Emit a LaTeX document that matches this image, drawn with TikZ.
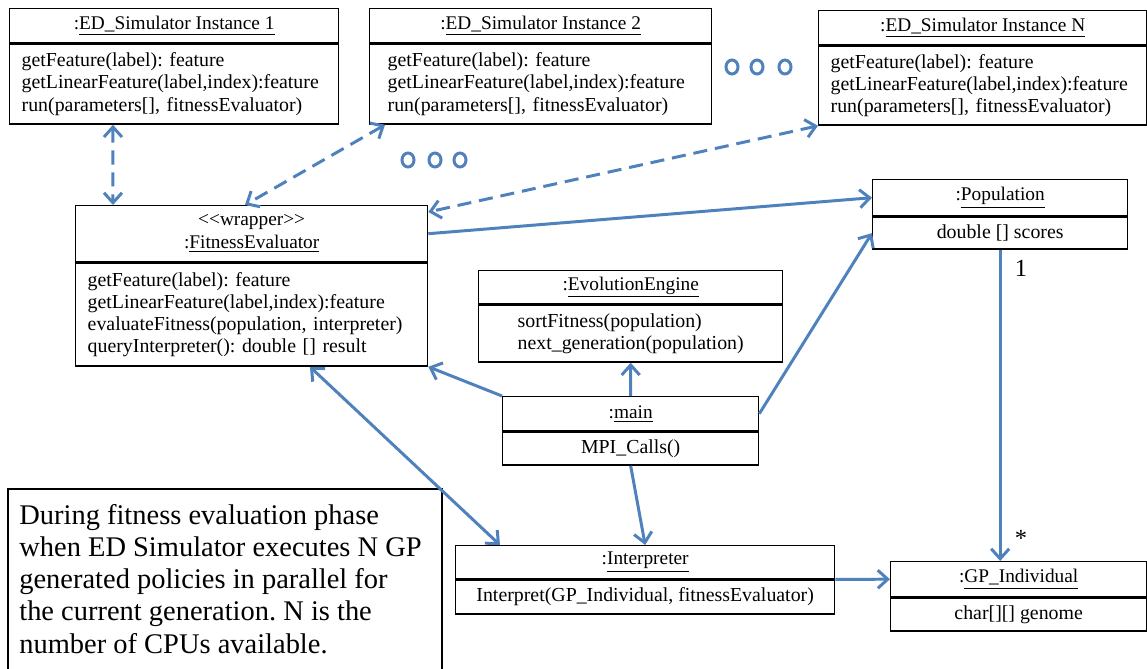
\documentclass[tikz,border=0pt]{standalone}
\usepackage{fontspec}
\setmainfont{Liberation Serif}
\usetikzlibrary{arrows.meta}

\definecolor{linkblue}{RGB}{79,129,189}

\begin{document}
\frenchspacing
\begin{tikzpicture}[
    x=0.02cm, y=-0.02cm,
    classhead/.style={rectangle, draw, line width=0.8pt, anchor=north west,
        inner sep=0pt, align=center, font=\fontsize{11}{13}\selectfont},
    classbody/.style={rectangle, draw, line width=0.8pt, anchor=north west,
        inner sep=0pt, align=center, font=\fontsize{11.3}{12.6}\selectfont},
    leftbody/.style={classbody, inner xsep=0.24cm, align=left},
    link/.style={draw=linkblue, line width=1.7pt,
        -{Straight Barb[length=2mm,width=3.6mm]}},
    biarrow/.style={link,
        {Straight Barb[length=2mm,width=3.6mm]}-{Straight Barb[length=2mm,width=3.6mm]}},
    dashlink/.style={biarrow, dash pattern=on 8pt off 4.5pt},
    ring/.style={draw=linkblue, line width=1.7pt}
]
\useasboundingbox (0,0) rectangle (1147,669);
\clip (0,0) rectangle (1147,669);

% simulator instances
\node (ed1head) [classhead, minimum width=6.58cm, minimum height=0.68cm] at (9,8)
  {:\underline{ED\_Simulator Instance 1}};
\node (ed1body) [leftbody, text width=6.1cm, minimum height=1.6cm] at (ed1head.south west)
  {getFeature(label): feature\\ getLinearFeature(label,index):feature\\ run(parameters[], fitnessEvaluator)};

\node (ed2head) [classhead, minimum width=6.84cm, minimum height=0.68cm] at (369,8)
  {:\underline{ED\_Simulator Instance 2}};
\node (ed2body) [leftbody, inner xsep=0.36cm, text width=6.12cm, minimum height=1.6cm] at (ed2head.south west)
  {getFeature(label): feature\\ getLinearFeature(label,index):feature\\ run(parameters[], fitnessEvaluator)};

\node (ednhead) [classhead, minimum width=6.56cm, minimum height=0.68cm] at (818,10)
  {:\underline{ED\_Simulator Instance N}};
\node (ednbody) [leftbody, inner xsep=0.24cm, text width=6.08cm, minimum height=1.58cm] at (ednhead.south west)
  {getFeature(label): feature\\ getLinearFeature(label,index):feature\\ run(parameters[], fitnessEvaluator)};

% ellipsis rings
\foreach \cx in {732,757,785}
  \draw[ring] (\cx,67) ellipse [x radius=0.12cm, y radius=0.14cm];
\foreach \cx in {408,435,460}
  \draw[ring] (\cx,160) ellipse [x radius=0.12cm, y radius=0.14cm];

% wrapper
\node (fehead) [classhead, minimum width=7.04cm, minimum height=1.12cm] at (75,205)
  {<{}<wrapper>{}>\\ :\underline{FitnessEvaluator}};
\node (febody) [leftbody, text width=6.56cm, minimum height=2.06cm] at (fehead.south west)
  {getFeature(label): feature\\ getLinearFeature(label,index):feature\\
   evaluateFitness(population, interpreter)\\ queryInterpreter(): double [] result};

% population
\node (pophead) [classhead, minimum width=5.1cm, minimum height=0.72cm] at (872,179)
  {:\underline{Population}};
\node (popbody) [classbody, minimum width=5.1cm, minimum height=0.64cm] at (pophead.south west)
  {double [] scores};

% evolution engine
\node (eehead) [classhead, minimum width=6.08cm, minimum height=0.66cm] at (478,270)
  {:\underline{EvolutionEngine}};
\node (eebody) [classbody, align=left, minimum width=6.08cm, minimum height=1.14cm] at (eehead.south west)
  {sortFitness(population)\\ next\_generation(population)};

% main
\node (mainhead) [classhead, minimum width=5.12cm, minimum height=0.68cm] at (502,396)
  {:\underline{main}};
\node (mainbody) [classbody, minimum width=5.12cm, minimum height=0.66cm] at (mainhead.south west)
  {MPI\_Calls()};

% interpreter
\node (interphead) [classhead, minimum width=7.58cm, minimum height=0.66cm] at (455,545)
  {:\underline{Interpreter}};
\node (interpbody) [classbody, minimum width=7.58cm, minimum height=0.68cm] at (interphead.south west)
  {Interpret(GP\_Individual, fitnessEvaluator)};

% individual
\node (gphead) [classhead, minimum width=5.12cm, minimum height=0.7cm] at (890,561)
  {:\underline{GP\_Individual}};
\node (gpbody) [classbody, minimum width=5.12cm, minimum height=0.66cm] at (gphead.south west)
  {char[][] genome};

% note, its frame runs off the bottom
\node (note) [anchor=north west, align=left, inner xsep=0.22cm,
    inner ysep=0.3cm, font=\fontsize{16.2}{18.3}\selectfont] at (8,489)
  {During fitness evaluation phase\\ when ED Simulator executes N GP\\
   generated policies in parallel for\\ the current generation. N is the\\
   number of CPUs available.};
\draw[line width=0.8pt] (note.north west |- 0,700) -- (note.north west)
  -- ([xshift=8.68cm]note.north west) -- ([xshift=8.68cm]note.north west |- 0,700);

% multiplicities
\node (one) at (1021,268) [font=\fontsize{14}{14}\selectfont] {1};
\node (many) at (1021,538) [font=\fontsize{14}{14}\selectfont] {*};

% connectors
\draw[dashlink] ([xshift=2.08cm]ed1body.south west) -- ([xshift=0.76cm]fehead.north west);
\draw[dashlink] ([xshift=0.32cm]ed2body.south west) -- ([xshift=3.4cm]fehead.north west);
\draw[dashlink] (ednbody.south west) -- ([yshift=-0.14cm]fehead.north east);
\draw[link] (fehead.east) -- (pophead.west);
\draw[link] (mainhead.north west) -- (febody.south east);
\draw[link] (mainhead.north) -- (eebody.south);
\draw[link] (mainhead.east) -- (popbody.west);
\draw[link] (mainbody.south) -- (interphead.north);
\draw[biarrow] ([xshift=4.7cm]febody.south west) -- ([xshift=0.9cm]interphead.north west);
\draw[link] (popbody.south) -- (popbody.south |- gphead.north);
\draw[link] (interphead.south east) -- (gphead.west);

\end{tikzpicture}
\end{document}
